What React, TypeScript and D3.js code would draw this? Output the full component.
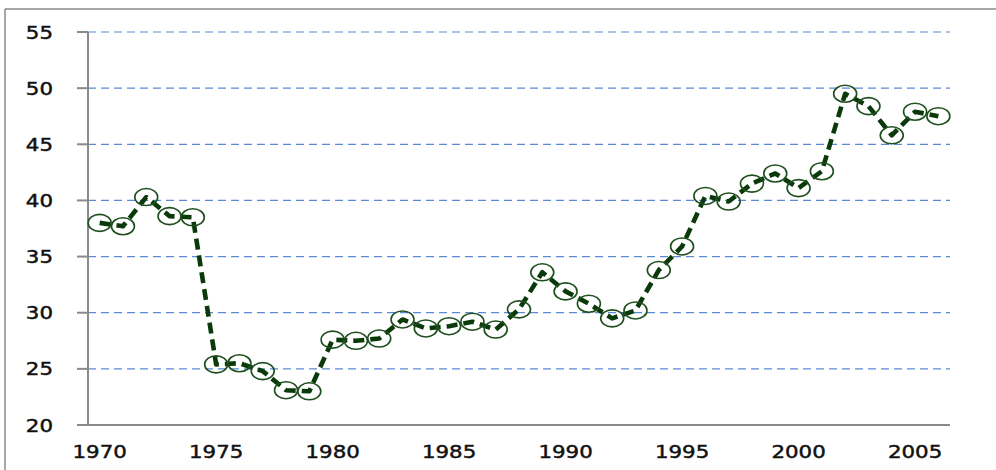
import React from "react";
import * as d3 from "d3";

const years: number[] = [
  1970, 1971, 1972, 1973, 1974, 1975, 1976, 1977, 1978, 1979,
  1980, 1981, 1982, 1983, 1984, 1985, 1986, 1987, 1988, 1989,
  1990, 1991, 1992, 1993, 1994, 1995, 1996, 1997, 1998, 1999,
  2000, 2001, 2002, 2003, 2004, 2005, 2006,
];
const values: number[] = [
  38.0, 37.7, 40.3, 38.6, 38.5, 25.4, 25.5, 24.8, 23.1, 23.0,
  27.6, 27.5, 27.7, 29.4, 28.6, 28.8, 29.2, 28.5, 30.3, 33.6,
  31.9, 30.8, 29.5, 30.2, 33.8, 35.9, 40.4, 39.9, 41.5, 42.4,
  41.1, 42.6, 49.5, 48.4, 45.8, 47.9, 47.5,
];
const yTicks: number[] = [20, 25, 30, 35, 40, 45, 50, 55];
const xTickLabels: number[] = [1970, 1975, 1980, 1985, 1990, 1995, 2000, 2005];

export default function App() {
  const W = 996, H = 470;
  const left = 88, right = 950, top = 32, bottom = 425;
  const x = d3.scaleBand<number>().domain(years).range([left, right]).padding(0);
  const cx = (yr: number) => (x(yr) as number) + x.bandwidth() / 2;
  const y = d3.scaleLinear().domain([20, 55]).range([bottom, top]);
  const line = d3.line<number>().x((_, i) => cx(years[i])).y((v) => y(v));
  const font = "'DejaVu Sans', Verdana, sans-serif";

  return (
    <svg width={W} height={H} style={{ position: "absolute", left: 0, top: 0, background: "#fff" }}>
      <rect x={0} y={0} width={W} height={H} fill="#fff" />
      {/* outer border */}
      <line x1={5} y1={9} x2={W} y2={9} stroke="#8a8a8a" strokeWidth={1.5} />
      <line x1={5} y1={9} x2={5} y2={H} stroke="#8a8a8a" strokeWidth={1.5} />
      {/* gridlines */}
      {yTicks.filter((t) => t > 20).map((t) => (
        <line key={"g" + t} x1={left} x2={right} y1={y(t)} y2={y(t)}
          stroke="#5a8ad6" strokeWidth={1.2} strokeDasharray="8,5" />
      ))}
      {/* y ticks */}
      {yTicks.map((t) => (
        <line key={"t" + t} x1={77} x2={left} y1={y(t)} y2={y(t)} stroke="#8a8a8a" strokeWidth={2} />
      ))}
      {/* axes */}
      <line x1={left} x2={left} y1={top} y2={bottom} stroke="#8a8a8a" strokeWidth={2} />
      <line x1={77} x2={right} y1={bottom} y2={bottom} stroke="#8a8a8a" strokeWidth={2} />
      {/* y labels */}
      {yTicks.map((t) => (
        <text key={"yl" + t} transform={`translate(53,${y(t) + 6.5}) scale(1.22,1)`}
          textAnchor="end" fontFamily={font} fontSize={17.5} fill="#111"
          stroke="#111" strokeWidth={0.45}>{t}</text>
      ))}
      {/* x labels */}
      {xTickLabels.map((t) => (
        <text key={"xl" + t} transform={`translate(${cx(t)},458) scale(1.22,1)`}
          textAnchor="middle" fontFamily={font} fontSize={17.5} fill="#111"
          stroke="#111" strokeWidth={0.45}>{t}</text>
      ))}
      {/* series line */}
      <path d={line(values) || ""} fill="none" stroke="#0a3a0a" strokeWidth={4.6}
        strokeDasharray="11,6" strokeLinejoin="round" />
      {/* markers */}
      {values.map((v, i) => (
        <ellipse key={"m" + i} cx={cx(years[i])} cy={y(v)} rx={11.5} ry={8.5}
          fill="none" stroke="#1f4f1f" strokeWidth={1.6} />
      ))}
    </svg>
  );
}
